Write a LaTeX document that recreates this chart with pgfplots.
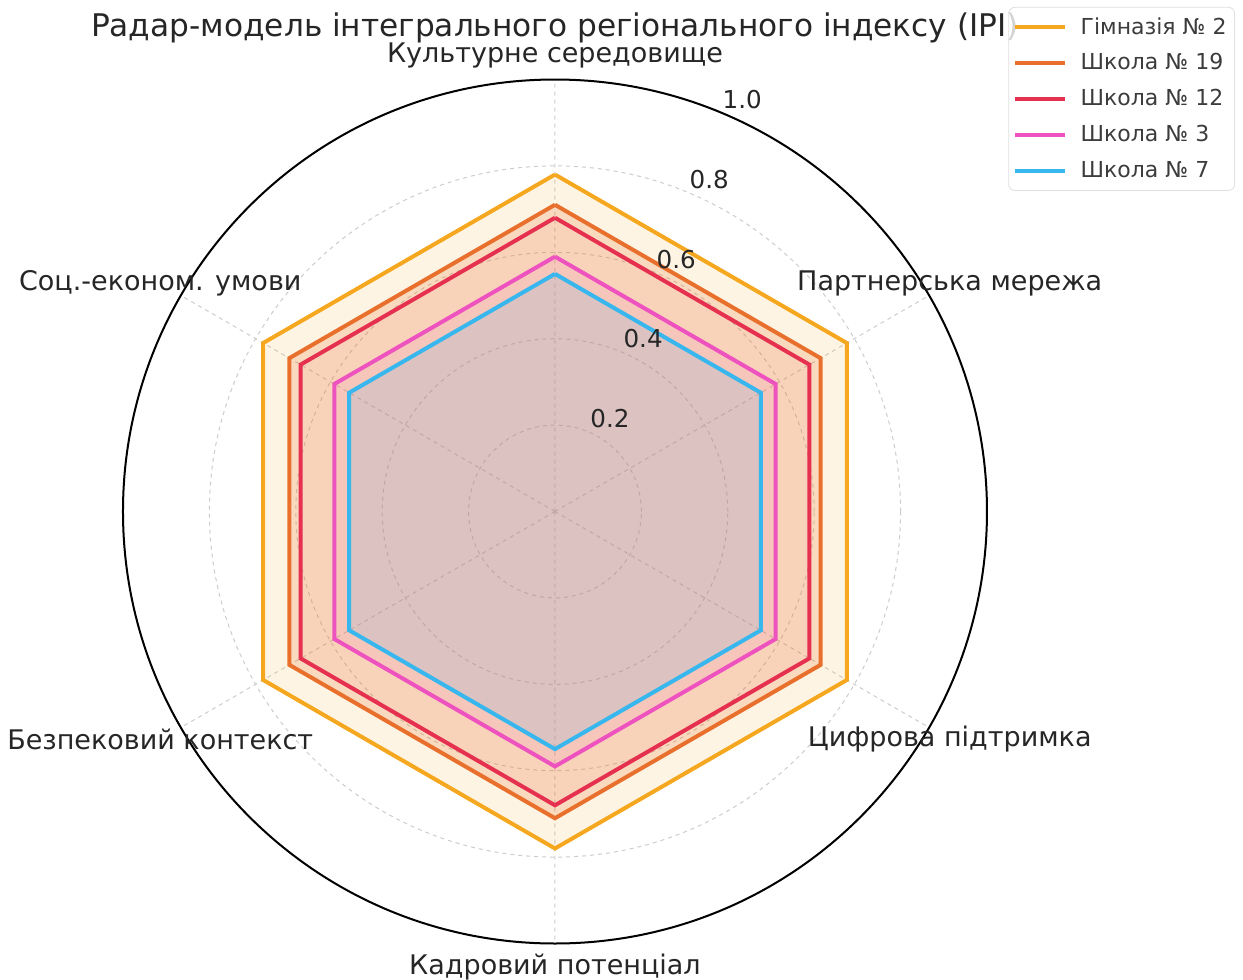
\documentclass[border=0pt]{standalone}
\usepackage{fontspec}
\setmainfont{DejaVu Sans}
\usepackage{pgfplots}
\pgfplotsset{compat=1.18}
\usepgfplotslibrary{polar}
\definecolor{cGim}{HTML}{F5A81F}
\definecolor{cS19}{HTML}{E8702C}
\definecolor{cS12}{HTML}{E6304F}
\definecolor{cS3}{HTML}{EE52BE}
\definecolor{cS7}{HTML}{38B6EE}
\definecolor{txt}{HTML}{262626}
\begin{document}
\begin{tikzpicture}
\path[use as bounding box] (-277.5pt,-234.25pt) rectangle (344pt,255.75pt);
\node[font=\fontsize{15.6}{18}\selectfont, text=txt] at (0,241.75pt) {Радар-модель інтегрального регіонального індексу (ІРІ)};
\begin{polaraxis}[
  at={(0,0)}, anchor=center,
  scale only axis, width=432pt, height=432pt,
  ymin=0, ymax=1,
  xtick={30,90,150,210,270,330}, xticklabels={},
  ytick={0.2,0.4,0.6,0.8,1.0}, yticklabels={},
  grid=major,
  major grid style={gray!40, line width=0.5pt, dash pattern=on 2pt off 2pt},
  major tick length=0pt,
  x axis line style={black, line width=1pt},
  y axis line style={draw=none},
  clip=false,
  legend cell align=left,
  legend image code/.code={\draw[#1] (0pt,0pt) -- (25pt,0pt);},
  legend style={at={(1.287,1.084)}, anchor=north east, draw=gray!25, fill=white, fill opacity=0.8, text opacity=1, rounded corners=3pt, font=\fontsize{11}{13}\selectfont, text=txt!90, row sep=4.3pt, inner xsep=2pt, inner ysep=3pt,
    /tikz/every odd column/.append style={column sep=5pt}},
]
\addplot[cGim, line width=2pt, fill=cGim, fill opacity=0.12] coordinates {(90,0.78) (30,0.78) (330,0.78) (270,0.78) (210,0.78) (150,0.78) (90,0.78)};
\addlegendentry{Гімназія № 2}
\addplot[cS19, line width=2pt, fill=cS19, fill opacity=0.2] coordinates {(90,0.71) (30,0.71) (330,0.71) (270,0.71) (210,0.71) (150,0.71) (90,0.71)};
\addlegendentry{Школа № 19}
\addplot[cS12, line width=2pt, fill=cS12, fill opacity=0.04] coordinates {(90,0.68) (30,0.68) (330,0.68) (270,0.68) (210,0.68) (150,0.68) (90,0.68)};
\addlegendentry{Школа № 12}
\addplot[cS3, line width=2pt, fill=cS3, fill opacity=0.1] coordinates {(90,0.59) (30,0.59) (330,0.59) (270,0.59) (210,0.59) (150,0.59) (90,0.59)};
\addlegendentry{Школа № 3}
\addplot[cS7, line width=2pt, fill=cS7, fill opacity=0.14] coordinates {(90,0.55) (30,0.55) (330,0.55) (270,0.55) (210,0.55) (150,0.55) (90,0.55)};
\addlegendentry{Школа № 7}
\begin{scope}[every node/.style={font=\fontsize{13.5}{16}\selectfont, text=txt}]
\node at (axis cs:90,1.055) {Культурне середовище};
\node at (axis cs:30,1.055) {Партнерська мережа};
\node at (axis cs:330,1.055) {Цифрова підтримка};
\node at (axis cs:270,1.055) {Кадровий потенціал};
\node at (axis cs:210,1.055) {Безпековий контекст};
\node at (axis cs:150,1.055) {Соц.-економ. умови};
\end{scope}
\begin{scope}[every node/.style={font=\fontsize{12.3}{14}\selectfont, text=txt, xshift=11pt, yshift=6.5pt}]
\node at (axis cs:67.5,0.2) {0.2};
\node at (axis cs:67.5,0.4) {0.4};
\node at (axis cs:67.5,0.6) {0.6};
\node at (axis cs:67.5,0.8) {0.8};
\node at (axis cs:67.5,1.0) {1.0};
\end{scope}
\end{polaraxis}
\end{tikzpicture}
\end{document}
